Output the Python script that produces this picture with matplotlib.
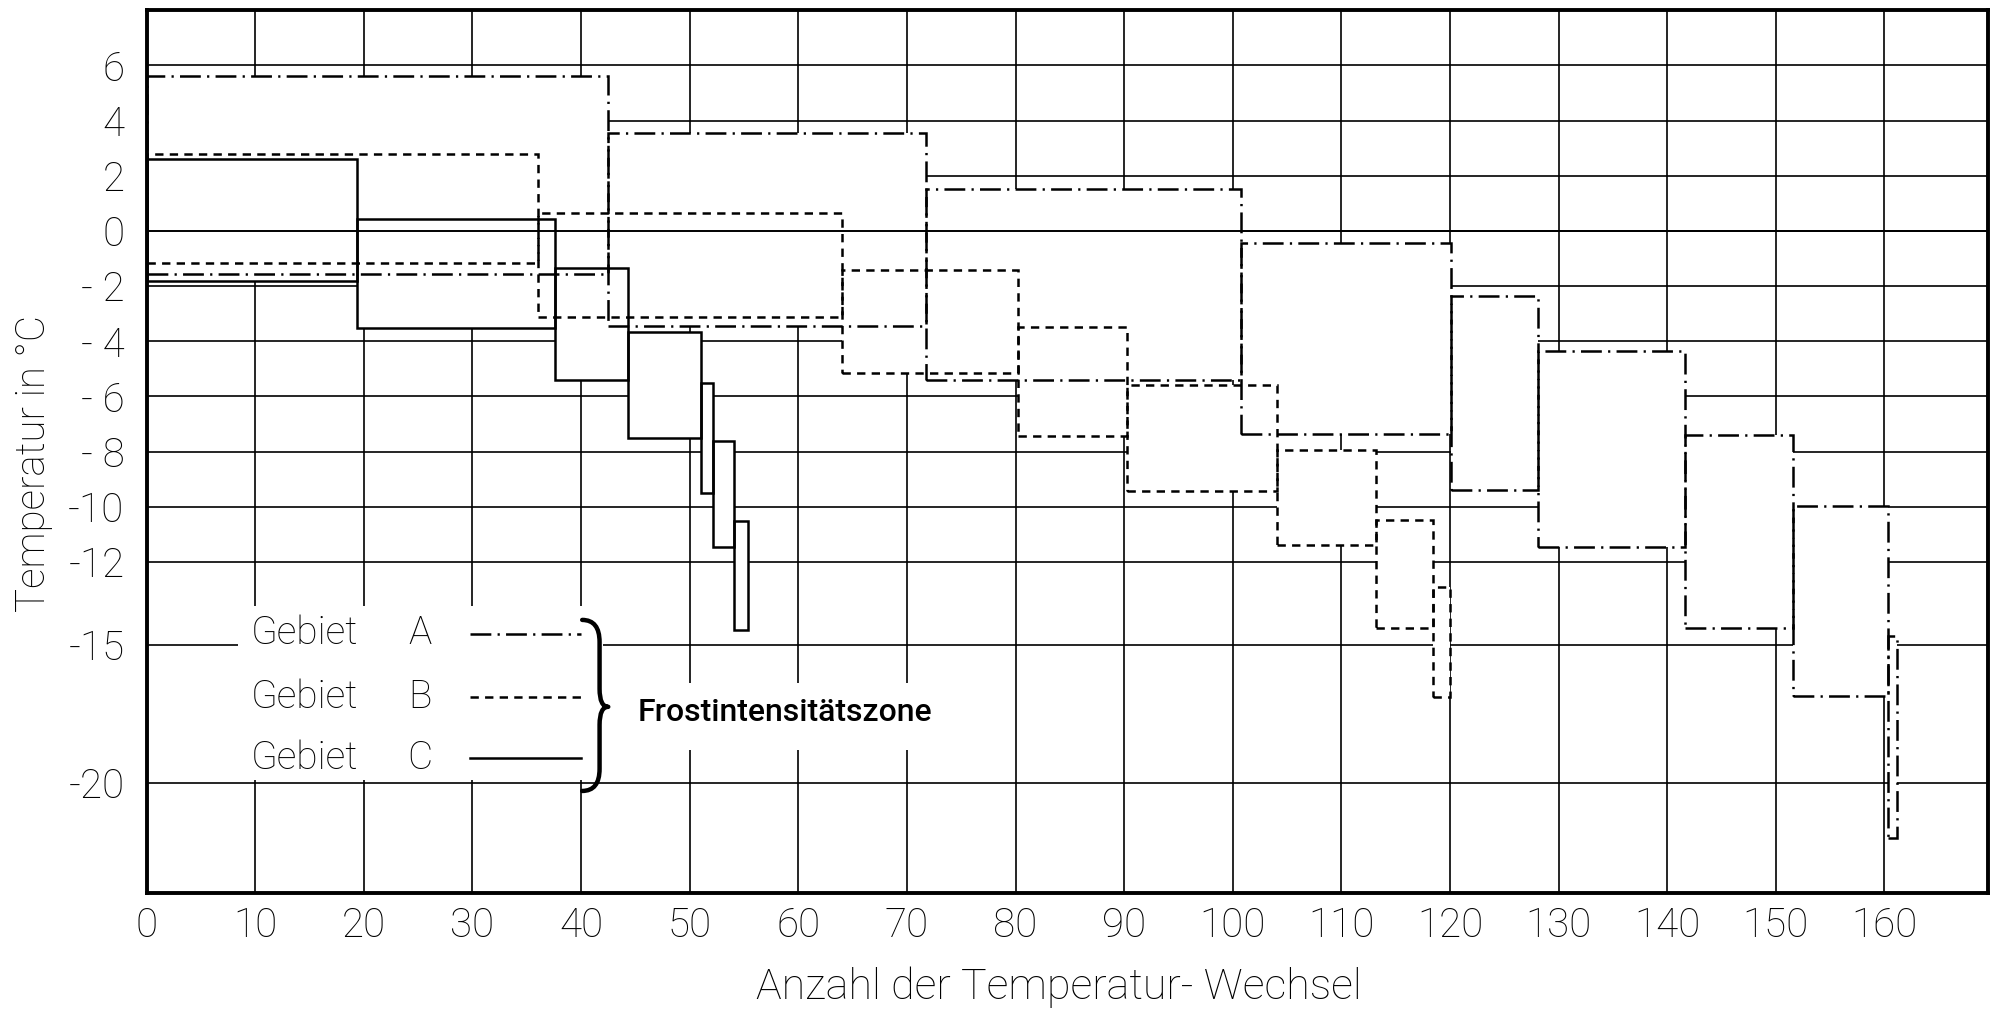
import matplotlib
matplotlib.use("Agg")
import matplotlib.pyplot as plt
from matplotlib.patches import Rectangle, PathPatch
from matplotlib.path import Path

plt.rcParams["lines.scale_dashes"] = False
plt.rcParams["font.family"] = ["Roboto", "DejaVu Sans"]

# Cycle-count boundaries and temperature bounds of each frost intensity zone
edges_a = [0, 42.5, 71.8, 100.8, 120.1, 128.1, 141.6, 151.6, 160.3, 161.2]
upper_a = [5.6, 3.55, 1.52, -0.45, -2.35, -4.35, -7.4, -9.96, -14.7]
lower_a = [-1.55, -3.45, -5.4, -7.35, -9.39, -11.44, -14.4, -16.85, -22.0]

edges_b = [0, 36.0, 64.0, 80.2, 90.3, 104.1, 113.2, 118.4, 120.0]
upper_b = [2.8, 0.65, -1.43, -3.49, -5.58, -7.95, -10.48, -12.9]
lower_b = [-1.18, -3.12, -5.15, -7.43, -9.42, -11.4, -14.4, -16.9]

edges_c = [0, 19.4, 37.6, 44.3, 51.0, 52.1, 54.1, 55.4]
upper_c = [2.6, 0.45, -1.34, -3.65, -5.5, -7.62, -10.52]
lower_c = [-1.8, -3.52, -5.42, -7.52, -9.49, -11.45, -14.45]

x_ticks = list(range(0, 161, 10))
y_ticks = [6, 4, 2, 0, -2, -4, -6, -8, -10, -12, -15, -20]
y_tick_labels = ["6", "4", "2", "0", "- 2", "- 4", "- 6", "- 8",
                 "-10", "-12", "-15", "-20"]

region_names = ["A", "B", "C"]

DASHDOT = (0, (15, 4.5, 1.6, 4.5))
DASHED = (0, (6, 4.5))
SOLID = "-"

series = [
    (edges_a, upper_a, lower_a, DASHDOT),
    (edges_b, upper_b, lower_b, DASHED),
    (edges_c, upper_c, lower_c, SOLID),
]

fig = plt.figure(figsize=(20.01, 10.14), dpi=100)
ax = fig.add_axes([0.0733, 0.1193, 0.9200, 0.8706])
ax.set_xlim(0, 169.5)
ax.set_ylim(-24, 8)

# grid (sits below the white zone fills)
for xv in x_ticks[1:]:
    ax.axvline(xv, color="black", lw=1.2, zorder=0.5)
for yv in y_ticks:
    ax.axhline(yv, color="black", lw=1.2, zorder=0.5)
# the zero line runs across the zones
ax.axhline(0, color="black", lw=1.4, zorder=1.5)

# white fills of all zones
for edges, up, lo, ls in series:
    for i in range(len(up)):
        ax.add_patch(Rectangle((edges[i], lo[i]), edges[i + 1] - edges[i],
                               up[i] - lo[i], facecolor="white",
                               edgecolor="none", zorder=1))

# legend and annotation backgrounds
ax.add_patch(Rectangle((8.4, -19.9), 33.6, 6.3, facecolor="white",
                       edgecolor="none", zorder=1.2))
ax.add_patch(Rectangle((45.0, -18.8), 29.0, 2.4, facecolor="white",
                       edgecolor="none", zorder=1.2))

# zone outlines
for edges, up, lo, ls in series:
    for i in range(len(up)):
        ax.add_patch(Rectangle((edges[i], lo[i]), edges[i + 1] - edges[i],
                               up[i] - lo[i], facecolor="none",
                               edgecolor="black", lw=1.8, linestyle=ls,
                               zorder=3))

# legend
legend_y = [-14.6, -16.9, -19.1]
for name, yv, (_, _, _, ls) in zip(region_names, legend_y, series):
    ax.text(9.6, yv, "Gebiet", fontsize=28, fontweight="light",
            ha="left", va="center", zorder=4)
    ax.text(25.2, yv, name, fontsize=28, fontweight="light",
            ha="center", va="center", zorder=4)
    ax.plot([29.8, 40.0], [yv, yv], color="black", lw=1.8, linestyle=ls,
            zorder=4)

# curly brace grouping the three regions
verts = [(40.1, -14.1), (41.7, -14.1), (41.7, -14.9),
         (41.7, -16.6),
         (41.7, -17.25), (42.5, -17.25),
         (41.7, -17.25), (41.7, -17.9),
         (41.7, -19.5),
         (41.7, -20.3), (40.1, -20.3)]
codes = [Path.MOVETO, Path.CURVE3, Path.CURVE3,
         Path.LINETO,
         Path.CURVE3, Path.CURVE3,
         Path.CURVE3, Path.CURVE3,
         Path.LINETO,
         Path.CURVE3, Path.CURVE3]
ax.add_patch(PathPatch(Path(verts, codes), facecolor="none",
                       edgecolor="black", lw=3.2, zorder=4,
                       capstyle="round", joinstyle="round"))

ax.text(45.2, -17.45, "Frostintensitätszone", fontsize=23,
        fontweight="medium", ha="left", va="center", zorder=4)

# axes and labels
ax.set_xticks(x_ticks)
ax.set_xticklabels([str(v) for v in x_ticks], fontsize=29,
                   fontweight="light")
ax.set_yticks(y_ticks)
ax.set_yticklabels(y_tick_labels, fontsize=29, fontweight="light")
ax.tick_params(axis="both", length=0)
ax.tick_params(axis="x", pad=10)
ax.tick_params(axis="y", pad=16)
for sp in ax.spines.values():
    sp.set_linewidth(2.8)
    sp.set_zorder(5)

fig.text(0.017, 0.543, "Temperatur in °C", rotation=90, fontsize=29,
         fontweight="light", ha="center", va="center")
fig.text(0.529, 0.026, "Anzahl der Temperatur- Wechsel", fontsize=31,
         fontweight="light", ha="center", va="center")

fig.savefig("out.png", dpi=100, facecolor="white")
